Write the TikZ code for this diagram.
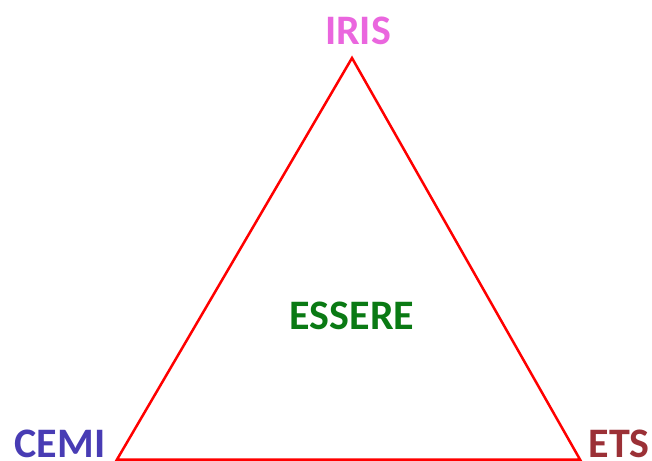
\documentclass[tikz,border=0pt]{standalone}
\usepackage{fontspec}
\setmainfont{Carlito}
\usepackage{xcolor}
\definecolor{irispink}{RGB}{234,102,222}
\definecolor{cemiblue}{RGB}{72,60,180}
\definecolor{etsred}{RGB}{155,48,54}
\definecolor{esseregreen}{RGB}{10,122,20}
\tikzset{label/.style={font=\fontsize{42}{44}\selectfont\bfseries, inner sep=0pt, text depth=0pt, anchor=base}}

\begin{document}
\begin{tikzpicture}[x=1pt, y=-1pt]
\useasboundingbox (0,0) rectangle (652,460);
% vertices
\coordinate (top) at (352,58);
\coordinate (left) at (117,459.5);
\coordinate (right) at (580,459.5);
% triangle
\draw[red, line width=2.5pt] (top) -- (right) -- (left) -- cycle;
% labels
\node[label, text=irispink] (iris) at (358,44.5) {IRIS};
\node[label, text=cemiblue] (cemi) at (60,457) {CEMI};
\node[label, text=etsred] (ets) at (619,457) {ETS};
\node[label, text=esseregreen] (essere) at (352,329.5) {ESSERE};
\end{tikzpicture}
\end{document}
